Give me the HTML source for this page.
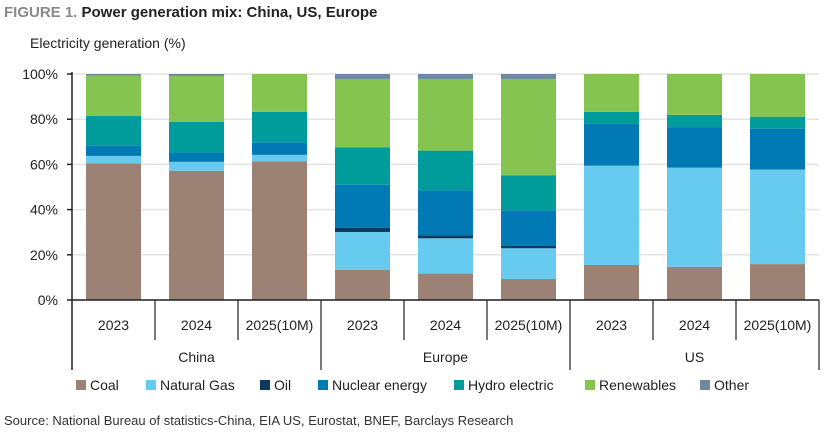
<!DOCTYPE html>
<html><head><meta charset="utf-8"><style>
body{margin:0;background:#fff;}
svg{display:block;font-family:"Liberation Sans",sans-serif;}
</style></head><body>
<svg width="829" height="438" viewBox="0 0 829 438">
<text x="4" y="17" font-size="15" font-weight="bold" fill="#8a8a8a">FIGURE 1. <tspan fill="#222">Power generation mix: China, US, Europe</tspan></text>
<text x="30" y="48" font-size="14" fill="#222">Electricity generation (%)</text>
<g id="grid"></g><g id="bars"></g><g id="axes"></g><g id="legend"></g>
<text x="4" y="425" font-size="13" fill="#333">Source: National Bureau of statistics-China, EIA US, Eurostat, BNEF, Barclays Research</text>
</svg>
<script>
const groups=["China","Europe","US"];
const years=["2023","2024","2025(10M)"];
const seriesNames=["Coal","Natural Gas","Oil","Nuclear energy","Hydro electric","Renewables","Other"];
const coal=[60.5,57.2,61.4,13.3,11.7,9.3,15.5,14.7,15.9];
const gas=[3.2,3.9,2.8,16.8,15.6,13.6,43.9,43.9,41.8];
const oil=[0.1,0.1,0.1,1.9,1.3,1.0,0.2,0.2,0.2];
const nuclear=[4.5,4.1,5.5,19.0,19.9,15.8,18.3,17.7,17.9];
const hydro=[13.1,13.6,13.5,16.6,17.6,15.5,5.3,5.4,5.3];
const renewables=[17.8,20.2,16.7,30.2,31.7,42.6,16.8,18.1,18.9];
const other=[0.8,0.9,0,2.2,2.2,2.2,0,0,0];
const yTicks=[0,20,40,60,80,100];
const colors=["#9b8274","#67cbf0","#0b3c5d","#0079b5","#009c9c","#86c451","#6e8aa0"];
const NS="http://www.w3.org/2000/svg";
const x0=72,catW=83,y0=300,yTop=74,barW=55;
const y=v=>y0-(y0-yTop)*v/100;
function mk(tag,attrs,parent){const e=document.createElementNS(NS,tag);for(const k in attrs)e.setAttribute(k,attrs[k]);parent.appendChild(e);return e;}
const grid=document.getElementById('grid'),bars=document.getElementById('bars'),axes=document.getElementById('axes'),legend=document.getElementById('legend');
yTicks.forEach(t=>{
 const l=mk('line',{x1:x0,x2:819,y1:y(t),y2:y(t),stroke:'#e3e3e3','stroke-width':1.5},grid);
 
 
 mk('line',{x1:x0-5,x2:x0,y1:y(t),y2:y(t),stroke:'#222','stroke-width':1.5},axes);
 const tx=mk('text',{x:x0-14,y:y(t)+5,'font-size':14,'text-anchor':'end',fill:'#222'},axes);
 tx.textContent=t+'%';
 
 
});
const all=[coal,gas,oil,nuclear,hydro,renewables,other];
for(let i=0;i<9;i++){
 let cum=0;const cx=x0+catW*i+catW/2;
 all.forEach((s,k)=>{
  const v=s[i];if(v<=0)return;
  const r=mk('rect',{x:cx-barW/2,y:y(cum+v),width:barW,height:y(cum)-y(cum+v),fill:colors[k]},bars);
  
  
  cum+=v;
 });
 const yl=mk('text',{x:cx,y:330,'font-size':14,'text-anchor':'middle',fill:'#222'},axes);
 yl.textContent=years[i%3];
 
 
}
mk('line',{x1:x0,x2:x0,y1:yTop-2,y2:370,stroke:'#222','stroke-width':1.5},axes);
mk('line',{x1:x0,x2:819,y1:y0,y2:y0,stroke:'#222','stroke-width':1.5},axes);
for(let i=1;i<=9;i++){
 const xx=x0+catW*i;const long=(i%3===0);
 mk('line',{x1:xx,x2:xx,y1:y0,y2:long?370:340,stroke:'#222','stroke-width':1.2},axes);
}
groups.forEach((g,j)=>{
 const t=mk('text',{x:x0+catW*(3*j+1.5),y:362,'font-size':14,'text-anchor':'middle',fill:'#222'},axes);
 t.textContent=g;
 
 
});
const lx=[76,146,260,318,454,585,700];
seriesNames.forEach((n,k)=>{
 const g=mk('g',{},legend);
 
 
 mk('rect',{x:lx[k],y:380,width:10,height:10,fill:colors[k]},g);
 const t=mk('text',{x:lx[k]+14,y:390,'font-size':14,fill:'#222'},g);
 t.textContent=n;
});
</script>
</body></html>
